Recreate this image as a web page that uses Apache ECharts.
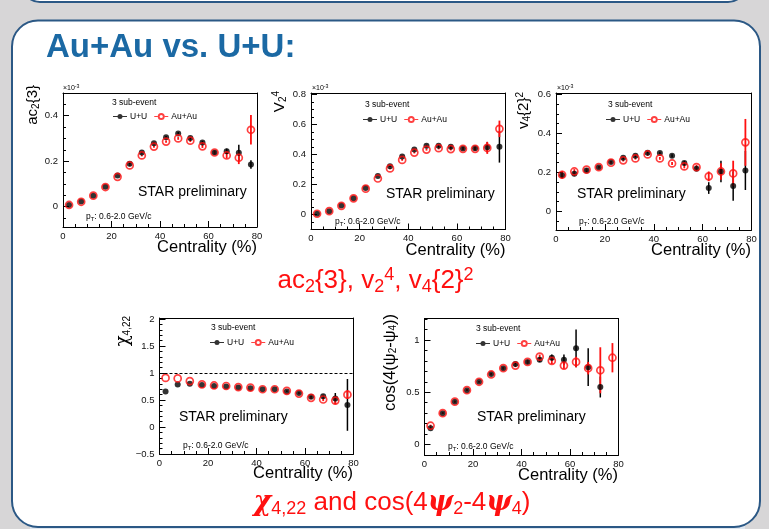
<!DOCTYPE html>
<html>
<head>
<meta charset="utf-8">
<script src="https://cdn.jsdelivr.net/npm/echarts@6/dist/echarts.min.js"></script>
<style>
html,body{margin:0;padding:0;background:#d7d6d7;}
#c{width:769px;height:529px;}
</style>
</head>
<body>
<div id="c"></div>
<script>
// Centrality bins (bin centres, %)
const centrality = [2.5, 7.5, 12.5, 17.5, 22.5, 27.5, 32.5, 37.5, 42.5, 47.5, 52.5, 57.5, 62.5, 67.5, 72.5, 77.5];
const xTicks = [0, 20, 40, 60, 80];

// ac2{3} (x10^-3)
const ac23UU    = [0.007, 0.022, 0.048, 0.087, 0.137, 0.189, 0.238, 0.279, 0.305, 0.322, 0.302, 0.282, 0.238, 0.243, 0.237, 0.185];
const ac23UUErr = [0, 0, 0, 0, 0, 0.004, 0.004, 0.005, 0.006, 0.006, 0.006, 0.007, 0.008, 0.012, 0.035, 0.019];
const ac23AA    = [0.007, 0.021, 0.048, 0.086, 0.131, 0.181, 0.225, 0.264, 0.286, 0.300, 0.290, 0.265, 0.238, 0.225, 0.215, 0.338];
const ac23AAErr = [0, 0, 0, 0, 0, 0.004, 0.004, 0.005, 0.005, 0.006, 0.006, 0.007, 0.008, 0.012, 0.028, 0.065];
const ac23Ticks = [0, 0.2, 0.4];

// v2^4 (x10^-3)
const v24UU    = [0.005, 0.022, 0.060, 0.109, 0.176, 0.256, 0.322, 0.387, 0.433, 0.458, 0.458, 0.451, 0.440, 0.442, 0.449, 0.451];
const v24UUErr = [0, 0, 0, 0, 0, 0, 0.005, 0.006, 0.006, 0.007, 0.008, 0.009, 0.010, 0.012, 0.035, 0.105];
const v24AA    = [0.005, 0.022, 0.058, 0.108, 0.172, 0.240, 0.307, 0.364, 0.413, 0.433, 0.442, 0.436, 0.438, 0.438, 0.444, 0.571];
const v24AAErr = [0, 0, 0, 0, 0, 0, 0.005, 0.006, 0.006, 0.007, 0.008, 0.009, 0.010, 0.012, 0.040, 0.055];
const v24Ticks = [0, 0.2, 0.4, 0.6, 0.8];

// v4{2}^2 (x10^-3)
const v42UU    = [0.185, 0.193, 0.210, 0.227, 0.253, 0.275, 0.285, 0.301, 0.299, 0.285, 0.248, 0.219, 0.120, 0.205, 0.130, 0.210];
const v42UUErr = [0.01, 0.012, 0.008, 0.006, 0.006, 0.006, 0.006, 0.007, 0.007, 0.008, 0.01, 0.012, 0.03, 0.055, 0.075, 0.1];
const v42AA    = [0.188, 0.205, 0.214, 0.227, 0.250, 0.262, 0.272, 0.292, 0.272, 0.246, 0.231, 0.227, 0.180, 0.205, 0.195, 0.354];
const v42AAErr = [0.02, 0.012, 0.008, 0.006, 0.006, 0.006, 0.006, 0.007, 0.007, 0.008, 0.01, 0.012, 0.025, 0.042, 0.065, 0.12];
const v42Ticks = [0, 0.2, 0.4, 0.6];

// chi_{4,22}
const chiUU    = [0.66, 0.79, 0.80, 0.78, 0.76, 0.75, 0.73, 0.72, 0.70, 0.70, 0.66, 0.63, 0.56, 0.57, 0.53, 0.41];
const chiUUErr = [0, 0, 0, 0, 0, 0, 0, 0, 0, 0, 0.01, 0.015, 0.02, 0.03, 0.1, 0.48];
const chiAA    = [0.91, 0.90, 0.85, 0.79, 0.77, 0.76, 0.74, 0.73, 0.70, 0.70, 0.67, 0.62, 0.54, 0.51, 0.49, 0.60];
const chiAAErr = [0, 0, 0, 0, 0, 0, 0, 0, 0, 0, 0.01, 0.015, 0.02, 0.03, 0.07, 0.08];
const chiTicks = [-0.5, 0, 0.5, 1, 1.5, 2];

// cos(4(psi2 - psi4))
const cosUU    = [0.156, 0.30, 0.41, 0.52, 0.60, 0.675, 0.73, 0.77, 0.79, 0.81, 0.83, 0.81, 0.92, 0.74, 0.55, null];
const cosUUErr = [0.01, 0.008, 0.008, 0.008, 0.008, 0.01, 0.012, 0.015, 0.015, 0.02, 0.03, 0.05, 0.18, 0.18, 0.1, 0];
const cosAA    = [0.18, 0.30, 0.41, 0.52, 0.60, 0.67, 0.73, 0.755, 0.79, 0.84, 0.80, 0.755, 0.79, 0.73, 0.71, 0.83];
const cosAAErr = [0.01, 0.008, 0.008, 0.008, 0.008, 0.01, 0.012, 0.015, 0.015, 0.02, 0.03, 0.03, 0.05, 0.06, 0.22, 0.14];
const cosTicks = [0, 0.5, 1];

const FONT = '"Liberation Sans", Arial, Helvetica, sans-serif';
const BLACK = '#000000';
const RED = '#ff1010';

// panel geometry: grid box and y range of each of the five pads
const pads = [
  {box: [63, 93, 194, 134],    y: [-0.09, 0.5],   major: ac23Ticks, step: 0.05, uu: ac23UU, uuE: ac23UUErr, aa: ac23AA, aaE: ac23AAErr},
  {box: [311, 93, 194.5, 136.5], y: [-0.1, 0.81],  major: v24Ticks,  step: 0.05, uu: v24UU,  uuE: v24UUErr,  aa: v24AA,  aaE: v24AAErr},
  {box: [556, 93, 195.5, 137], y: [-0.095, 0.607], major: v42Ticks,  step: 0.05, uu: v42UU,  uuE: v42UUErr,  aa: v42AA,  aaE: v42AAErr},
  {box: [159.5, 318, 194, 136], y: [-0.5, 2.02],  major: chiTicks,  step: 0.1,  uu: chiUU,  uuE: chiUUErr,  aa: chiAA,  aaE: chiAAErr},
  {box: [424.5, 318.5, 194, 136.5], y: [-0.1, 1.205], major: cosTicks, step: 0.1, uu: cosUU, uuE: cosUUErr, aa: cosAA, aaE: cosAAErr}
];

function minorValues(lo, hi, step, major) {
  const out = [];
  const start = Math.ceil(lo / step - 1e-9);
  for (let k = start; k * step <= hi + 1e-9; k++) {
    const v = +(k * step).toFixed(4);
    if (!major.some(m => Math.abs(m - v) < 1e-6)) out.push(v);
  }
  return out;
}

const grids = [], xAxes = [], yAxes = [], series = [], legends = [];

pads.forEach((p, i) => {
  grids.push({left: p.box[0], top: p.box[1], width: p.box[2], height: p.box[3]});
  xAxes.push({
    gridIndex: i, type: 'value', min: 0, max: 80, interval: 20, position: 'bottom',
    axisLine: {onZero: false, lineStyle: {color: '#000', width: 1}},
    axisTick: {inside: true, length: 6, lineStyle: {color: '#000'}},
    minorTick: {show: true, splitNumber: 4, length: 3, lineStyle: {color: '#000'}},
    splitLine: {show: false},
    axisLabel: {fontSize: 9.5, color: '#111', margin: 4, fontFamily: FONT, customValues: xTicks}
  });
  yAxes.push({
    gridIndex: i, type: 'value', min: p.y[0], max: p.y[1], position: 'left',
    axisLine: {show: true, onZero: false, lineStyle: {color: '#000', width: 1}},
    axisTick: {show: true, inside: true, length: 6, lineStyle: {color: '#000'}, customValues: p.major},
    splitLine: {show: false},
    axisLabel: {fontSize: 9.5, color: '#111', margin: 5, fontFamily: FONT, customValues: p.major,
      formatter: v => String(v).replace('-', '\u2212')}
  });
});
// minor y ticks on a companion axis per pad
pads.forEach((p, i) => {
  yAxes.push({
    gridIndex: i, type: 'value', min: p.y[0], max: p.y[1], position: 'left',
    axisLine: {show: false}, axisLabel: {show: false}, splitLine: {show: false},
    axisTick: {show: true, inside: true, length: 3, lineStyle: {color: '#000'},
      customValues: minorValues(p.y[0], p.y[1], p.step, p.major)}
  });
});
// top and right edges of each frame
pads.forEach((p, i) => {
  xAxes.push({gridIndex: i, type: 'value', min: 0, max: 80, position: 'top',
    axisLine: {show: true, onZero: false, lineStyle: {color: '#000', width: 1}},
    axisTick: {show: false}, axisLabel: {show: false}, splitLine: {show: false}});
  yAxes.push({gridIndex: i, type: 'value', min: p.y[0], max: p.y[1], position: 'right',
    axisLine: {show: true, onZero: false, lineStyle: {color: '#000', width: 1}},
    axisTick: {show: false}, axisLabel: {show: false}, splitLine: {show: false}});
});

function errorSeries(i, vals, errs, color, width) {
  return {
    type: 'custom', xAxisIndex: i, yAxisIndex: i, silent: true, name: 'err',
    data: centrality.map((c, k) => [c, vals[k] == null ? '-' : vals[k], errs[k]]),
    renderItem: function (params, api) {
      const x = api.value(0), y = api.value(1), e = api.value(2);
      if (!e || isNaN(y)) return null;
      const a = api.coord([x, y - e]), b = api.coord([x, y + e]);
      return {type: 'line', shape: {x1: a[0], y1: a[1], x2: b[0], y2: b[1]},
        style: {stroke: color, lineWidth: width}};
    }
  };
}

pads.forEach((p, i) => {
  series.push(errorSeries(i, p.uu, p.uuE, BLACK, 1.5));
  series.push({
    type: 'scatter', name: 'U+U', xAxisIndex: i, yAxisIndex: i, symbol: 'circle', symbolSize: 6,
    itemStyle: {color: BLACK}, silent: true,
    data: centrality.map((c, k) => [c, p.uu[k] == null ? '-' : p.uu[k]])
  });
  series.push(errorSeries(i, p.aa, p.aaE, RED, 1.8));
  const aaSeries = {
    type: 'scatter', name: 'Au+Au', xAxisIndex: i, yAxisIndex: i, symbol: 'circle', symbolSize: 7,
    itemStyle: {color: 'rgba(255,255,255,0)', borderColor: RED, borderWidth: 1.7}, silent: true,
    data: centrality.map((c, k) => [c, p.aa[k]])
  };
  if (i === 3) {
    aaSeries.markLine = {silent: true, symbol: 'none', label: {show: false},
      lineStyle: {type: [3, 2], color: '#000', width: 1}, data: [{yAxis: 1}]};
  }
  series.push(aaSeries);
});

// legend icons: marker with a line through it
const iconUU = 'path://M0,3H14V4H0Z M4.5,3.5A2.5,2.5 0 1 1 9.5,3.5A2.5,2.5 0 1 1 4.5,3.5Z';
const iconAA = 'path://M0,3H3.6V4H0Z M10.4,3H14V4H10.4Z M7,0A3.5,3.5 0 1 0 7,7A3.5,3.5 0 1 0 7,0Z M7,1.9A1.6,1.6 0 1 1 7,5.1A1.6,1.6 0 1 1 7,1.9Z';
const legendPos = [[113, 112], [363, 115], [606, 115], [210, 338], [476, 339]];
legendPos.forEach(pos => {
  legends.push({
    left: pos[0], top: pos[1], itemWidth: 14, itemHeight: 7, itemGap: 7, padding: 0,
    selectedMode: false,
    textStyle: {fontSize: 8.5, color: '#000', fontFamily: FONT, padding: [0, 0, 0, -2]},
    data: [
      {name: 'U+U', icon: iconUU, itemStyle: {color: BLACK, borderWidth: 0}},
      {name: 'Au+Au', icon: iconAA, itemStyle: {color: RED, borderWidth: 0}}
    ]
  });
});

// text decorations
const sub = {fontSize: 10, fontFamily: FONT, verticalAlign: 'bottom', padding: [7, 0, 0, 0]};
const sup = {fontSize: 10, fontFamily: FONT, verticalAlign: 'top', padding: [0, 0, 6, 0]};
function vtitle(x, y, text, size, extraRich) {
  return {type: 'text', x: x, y: y, rotation: Math.PI / 2, z: 10,
    style: {text: text, font: size + 'px ' + FONT, fill: '#000', align: 'right', verticalAlign: 'middle',
      rich: Object.assign({s: sub, p: sup}, extraRich || {})}};
}
function txt(x, y, text, size, opts) {
  return Object.assign({type: 'text', x: x, y: y, z: 10,
    style: Object.assign({text: text, font: size + 'px ' + FONT, fill: '#000', align: 'left', verticalAlign: 'middle',
      rich: {s: {fontSize: size * 0.7, fontFamily: FONT, verticalAlign: 'bottom', padding: [size * 0.45, 0, 0, 0]},
             p: {fontSize: size * 0.75, fontFamily: FONT, verticalAlign: 'top', padding: [0, 0, size * 0.4, 0]}}}, opts || {})});
}

const padText = [
  {title: vtitle(32.5, 85, 'ac{s|2}{3}', 15), exp: [63, 88], sub3: [112, 103], star: [138, 192], pt: [86, 217], cen: [257, 247]},
  {title: vtitle(280, 91, 'V{s|2}{p|4}', 15), exp: [312, 88], sub3: [365, 105], star: [386, 194], pt: [335, 222], cen: [505.5, 250]},
  {title: vtitle(524, 92, 'v{s|4}{2}{p|2}', 15), exp: [557, 88], sub3: [608, 105], star: [577, 194], pt: [579, 222], cen: [751, 250]},
  {title: vtitle(123, 316, '{g|χ}{s|4,22}', 16, {g: {fontSize: 18, fontFamily: '"DejaVu Serif", serif'}}), exp: null, sub3: [211, 328], star: [179, 417], pt: [183, 446], cen: [353, 473]},
  {title: vtitle(390, 314, 'cos(4(ψ{s|2}-ψ{s|4}))', 16.5), exp: null, sub3: [476, 329], star: [477, 417], pt: [448, 447], cen: [618, 475]}
];

const graphics = [
  // frame of the slide above
  {type: 'rect', shape: {x: 22, y: -40, width: 724, height: 42, r: 18}, style: {fill: '#fff', stroke: '#2b5885', lineWidth: 2}, z: 0},
  {type: 'rect', shape: {x: 30, y: 526, width: 715, height: 4}, style: {fill: '#dde5ee'}, z: 0},
  // main slide panel
  {type: 'rect', shape: {x: 12, y: 20.5, width: 748, height: 506.5, r: 26}, style: {fill: '#fff', stroke: '#2b5885', lineWidth: 2}, z: 0},
  // heading
  {type: 'text', x: 46, y: 47.5, z: 10, style: {text: 'Au+Au vs. U+U:', font: 'bold 33px ' + FONT, fill: '#1b69a4', verticalAlign: 'middle'}},
  // captions
  {type: 'text', x: 375.5, y: 281, z: 10, style: {
    text: 'ac{s|2}{3}, v{s|2}{p|4}, v{s|4}{2}{p|2}', font: '26px ' + FONT, fill: RED, align: 'center', verticalAlign: 'middle',
    rich: {s: {fontSize: 18, fontFamily: FONT, fill: RED, verticalAlign: 'bottom', padding: [12, 0, 0, 0]},
           p: {fontSize: 18, fontFamily: FONT, fill: RED, verticalAlign: 'top', padding: [0, 0, 10, 0]}}}},
  {type: 'text', x: 392, y: 503, z: 10, style: {
    text: '{g|χ}{s|4,22} and cos(4{g|ψ}{s|2}-4{g|ψ}{s|4})', font: '26px ' + FONT, fill: RED, align: 'center', verticalAlign: 'middle',
    rich: {s: {fontSize: 18, fontFamily: FONT, fill: RED, verticalAlign: 'bottom', padding: [12, 0, 0, 0]},
           g: {fontSize: 27, fontFamily: '"DejaVu Serif", serif', fontWeight: 'bold', fontStyle: 'italic', fill: RED}}}}
];

padText.forEach(t => {
  graphics.push(t.title);
  if (t.exp) graphics.push(txt(t.exp[0], t.exp[1], '×10{p|-3}', 7));
  graphics.push(txt(t.sub3[0], t.sub3[1], '3 sub-event', 8.5));
  graphics.push(txt(t.star[0], t.star[1], 'STAR preliminary', 14));
  graphics.push(txt(t.pt[0], t.pt[1], 'p{s|T}: 0.6-2.0 GeV/c', 8.5));
  graphics.push(txt(t.cen[0], t.cen[1], 'Centrality (%)', 16.5, {align: 'right'}));
});

const chart = echarts.init(document.getElementById('c'), null, {renderer: 'canvas'});
chart.setOption({
  backgroundColor: '#d7d6d7',
  animation: false,
  grid: grids,
  xAxis: xAxes,
  yAxis: yAxes,
  legend: legends,
  series: series,
  graphic: graphics
});
</script>
</body>
</html>
